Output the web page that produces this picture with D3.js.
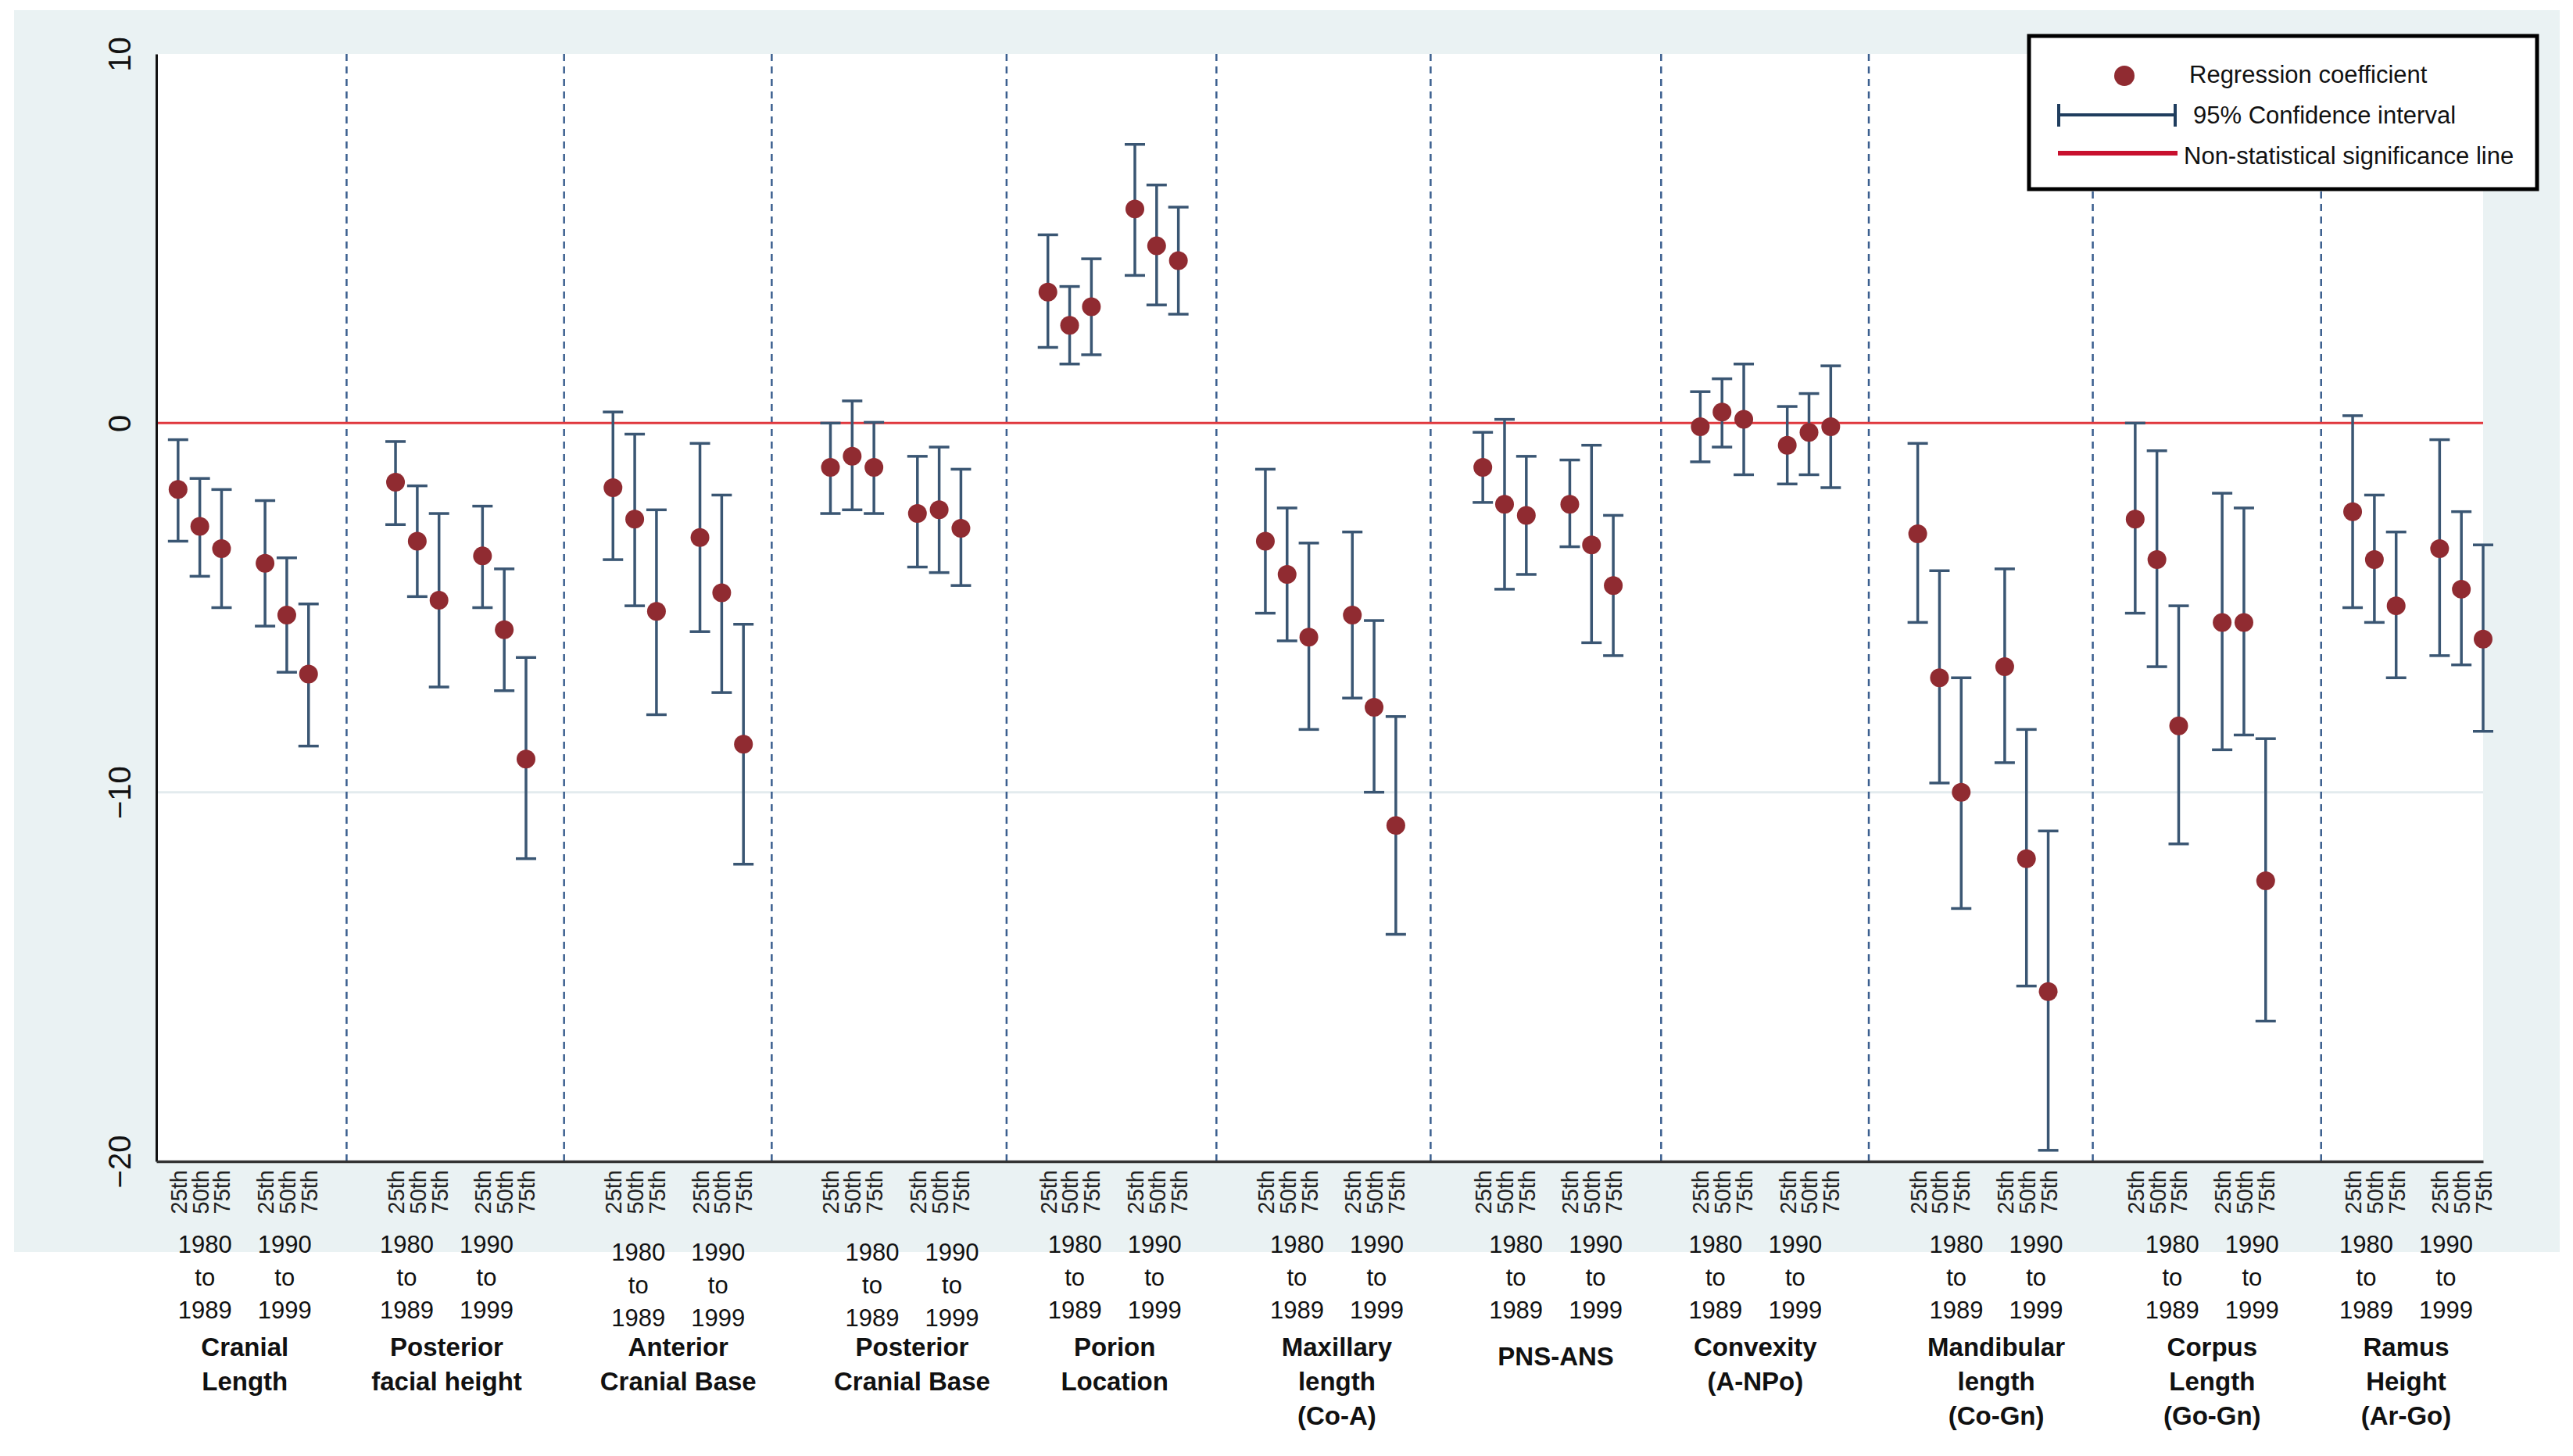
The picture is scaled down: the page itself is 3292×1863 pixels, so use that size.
<!DOCTYPE html>
<html lang="en">
<head>
    <meta charset="UTF-8">
    <title>Regression coefficients by percentile and decade</title>
    <style>
        body { margin: 0; background: #fff; }
        svg { display: block; }
        .yaxis text { font-family: "Liberation Sans", Arial, sans-serif; font-size: 40px; fill: #111; }
        .xaxis text { font-family: "Liberation Sans", Arial, sans-serif; font-size: 29px; fill: #222; }
        .period { font-family: "Liberation Sans", Arial, sans-serif; font-size: 31px; fill: #111; }
        .category { font-family: "Liberation Sans", Arial, sans-serif; font-size: 33px; font-weight: bold; fill: #111; }
        .legend text { font-family: "Liberation Sans", Arial, sans-serif; font-size: 31px; fill: #111; }
    </style>
    <script src="https://d3js.org/d3.v7.min.js"></script>
</head>
<body>
    <script>
        // measures, one per panel
        const categories = [
            ["Cranial", "Length"],
            ["Posterior", "facial height"],
            ["Anterior", "Cranial Base"],
            ["Posterior", "Cranial Base"],
            ["Porion", "Location"],
            ["Maxillary", "length", "(Co-A)"],
            ["PNS-ANS"],
            ["Convexity", "(A-NPo)"],
            ["Mandibular", "length", "(Co-Gn)"],
            ["Corpus", "Length", "(Go-Gn)"],
            ["Ramus", "Height", "(Ar-Go)"]
        ];
        const percentiles = ["25th", "50th", "75th"];
        const periods = [["1980", "to", "1989"], ["1990", "to", "1999"]];

        // per measure: 25th/50th/75th for 1980-89, then 25th/50th/75th for 1990-99
        const coef = [
            [-1.8, -2.8, -3.4, -3.8, -5.2, -6.8],
            [-1.6, -3.2, -4.8, -3.6, -5.6, -9.1],
            [-1.75, -2.6, -5.1, -3.1, -4.6, -8.7],
            [-1.2, -0.9, -1.2, -2.45, -2.35, -2.85],
            [3.55, 2.65, 3.15, 5.8, 4.8, 4.4],
            [-3.2, -4.1, -5.8, -5.2, -7.7, -10.9],
            [-1.2, -2.2, -2.5, -2.2, -3.3, -4.4],
            [-0.1, 0.3, 0.1, -0.6, -0.25, -0.1],
            [-3.0, -6.9, -10.0, -6.6, -11.8, -15.4],
            [-2.6, -3.7, -8.2, -5.4, -5.4, -12.4],
            [-2.4, -3.7, -4.95, -3.4, -4.5, -5.85]
        ];
        const ciLow = [
            [-3.2, -4.15, -5.0, -5.5, -6.75, -8.75],
            [-2.75, -4.7, -7.15, -5.0, -7.25, -11.8],
            [-3.7, -4.95, -7.9, -5.65, -7.3, -11.95],
            [-2.45, -2.35, -2.45, -3.9, -4.05, -4.4],
            [2.05, 1.6, 1.85, 4.0, 3.2, 2.95],
            [-5.15, -5.9, -8.3, -7.45, -10.0, -13.85],
            [-2.15, -4.5, -4.1, -3.35, -5.95, -6.3],
            [-1.05, -0.65, -1.4, -1.65, -1.4, -1.75],
            [-5.4, -9.75, -13.15, -9.2, -15.25, -19.7],
            [-5.15, -6.6, -11.4, -8.85, -8.45, -16.2],
            [-5.0, -5.4, -6.9, -6.3, -6.55, -8.35]
        ];
        const ciHigh = [
            [-0.45, -1.5, -1.8, -2.1, -3.65, -4.9],
            [-0.5, -1.7, -2.45, -2.25, -3.95, -6.35],
            [0.3, -0.3, -2.35, -0.55, -1.95, -5.45],
            [0, 0.6, 0.02, -0.9, -0.65, -1.25],
            [5.1, 3.7, 4.45, 7.55, 6.45, 5.85],
            [-1.25, -2.3, -3.25, -2.95, -5.35, -7.95],
            [-0.25, 0.1, -0.9, -1.0, -0.6, -2.5],
            [0.85, 1.2, 1.6, 0.45, 0.8, 1.55],
            [-0.55, -4.0, -6.9, -3.95, -8.3, -11.05],
            [0, -0.75, -4.95, -1.9, -2.3, -8.55],
            [0.2, -1.95, -2.95, -0.45, -2.4, -3.3]
        ];

        const yTicks = [10, 0, -10, -20];
        const dividers = [8.75, 18.75, 28.3, 39.1, 48.75, 58.6, 69.2, 78.75, 89.05, 99.55];
        const legendLabels = ["Regression coefficient", "95% Confidence interval", "Non-statistical significance line"];

        // hand placement of the text under each panel (px)
        const labelShift = [2, -18, 0, 21, 2, 8, 10, -13, 17, 15, -15];
        const yearDrop = [0, 0, 10, 10, 0, 0, 0, 0, 0, 0, 0];

        class CoefPlot {
            constructor(svg) {
                this.svg = svg;
                this.plot = { left: 200, right: 3177, top: 69, bottom: 1486 };
                this.x = d3.scaleLinear().domain([0, 107]).range([this.plot.left, this.plot.right]);
                this.y = d3.scaleLinear().domain([-20, 10]).range([this.plot.bottom, this.plot.top]);

                this.points = [];
                categories.forEach((c, g) => {
                    coef[g].forEach((v, i) => {
                        const p = Math.floor(i / 3), k = i % 3;
                        this.points.push({ pos: g * 10 + 1 + p * 4 + k, coef: v, lo: ciLow[g][i], hi: ciHigh[g][i] });
                    });
                });
            }

            init() {
                this.drawBackground();
                this.drawGuides();
                this.drawIntervals();
                this.drawAxes();
                this.drawLabels();
                this.drawLegend();
            }

            drawBackground() {
                this.svg.append("rect")
                    .attr("x", 18).attr("y", 13).attr("width", 3257).attr("height", 1589)
                    .attr("fill", "#eaf2f3");
                this.svg.append("rect")
                    .attr("x", this.plot.left).attr("y", this.plot.top)
                    .attr("width", this.plot.right - this.plot.left)
                    .attr("height", this.plot.bottom - this.plot.top)
                    .attr("fill", "#fff");
            }

            drawGuides() {
                const g = this.svg.append("g");
                g.selectAll("line.grid").data([-10]).enter().append("line")
                    .attr("class", "grid")
                    .attr("x1", this.plot.left).attr("x2", this.plot.right)
                    .attr("y1", d => this.y(d)).attr("y2", d => this.y(d))
                    .attr("stroke", "#e3ebee").attr("stroke-width", 3);

                g.selectAll("line.divider").data(dividers).enter().append("line")
                    .attr("class", "divider")
                    .attr("x1", d => this.x(d)).attr("x2", d => this.x(d))
                    .attr("y1", this.plot.top).attr("y2", this.plot.bottom)
                    .attr("stroke", "#3b5f8f").attr("stroke-width", 2.5)
                    .attr("stroke-dasharray", "9,7");

                g.append("line")
                    .attr("x1", this.plot.left).attr("x2", this.plot.right)
                    .attr("y1", this.y(0)).attr("y2", this.y(0))
                    .attr("stroke", "#e0383e").attr("stroke-width", 3);
            }

            drawIntervals() {
                const cap = 13;
                const bars = this.svg.append("g").selectAll("g")
                    .data(this.points).enter().append("g")
                    .attr("stroke", "#3a5673").attr("stroke-width", 3.5);

                bars.append("line")
                    .attr("x1", d => this.x(d.pos)).attr("x2", d => this.x(d.pos))
                    .attr("y1", d => this.y(d.lo)).attr("y2", d => this.y(d.hi));
                bars.append("line")
                    .attr("x1", d => this.x(d.pos) - cap).attr("x2", d => this.x(d.pos) + cap)
                    .attr("y1", d => this.y(d.lo)).attr("y2", d => this.y(d.lo));
                bars.append("line")
                    .attr("x1", d => this.x(d.pos) - cap).attr("x2", d => this.x(d.pos) + cap)
                    .attr("y1", d => this.y(d.hi)).attr("y2", d => this.y(d.hi));

                this.svg.append("g").selectAll("circle")
                    .data(this.points).enter().append("circle")
                    .attr("cx", d => this.x(d.pos))
                    .attr("cy", d => this.y(d.coef))
                    .attr("r", 12)
                    .attr("fill", "#902b31");
            }

            drawAxes() {
                const yAxis = this.svg.append("g").attr("class", "yaxis")
                    .attr("transform", `translate(${this.plot.left},0)`)
                    .call(d3.axisLeft(this.y).tickValues(yTicks).tickSize(0).tickSizeOuter(0));
                yAxis.select(".domain").attr("stroke", "#111").attr("stroke-width", 3);
                yAxis.selectAll("text")
                    .attr("x", null).attr("dy", null)
                    .attr("text-anchor", "middle")
                    .attr("dominant-baseline", "central")
                    .attr("transform", "translate(-47,0) rotate(-90)");

                const xAxis = this.svg.append("g").attr("class", "xaxis")
                    .attr("transform", `translate(0,${this.plot.bottom})`)
                    .call(d3.axisBottom(this.x)
                        .tickValues(this.points.map(d => d.pos))
                        .tickFormat((d, i) => percentiles[i % 3])
                        .tickSize(0).tickSizeOuter(0));
                xAxis.select(".domain").attr("stroke", "#333").attr("stroke-width", 3.5);
                xAxis.selectAll("text")
                    .attr("y", null).attr("dy", "0.36em")
                    .attr("text-anchor", "end")
                    .attr("transform", "translate(0,11) rotate(-90)");
            }

            drawLabels() {
                const rowY = [1592, 1634, 1676];
                categories.forEach((lines, g) => {
                    const cx = this.x(g * 10 + 4) + labelShift[g];
                    periods.forEach((rows, p) => {
                        this.svg.append("g").selectAll("text")
                            .data(rows).enter().append("text")
                            .attr("class", "period")
                            .attr("x", cx + (p === 0 ? -51 : 51))
                            .attr("y", (d, j) => rowY[j] + yearDrop[g])
                            .attr("text-anchor", "middle")
                            .attr("dominant-baseline", "central")
                            .text(d => d);
                    });
                    const top = lines.length === 1 ? 1735 : 1723;
                    this.svg.append("g").selectAll("text")
                        .data(lines).enter().append("text")
                        .attr("class", "category")
                        .attr("x", cx)
                        .attr("y", (d, j) => top + j * 44)
                        .attr("text-anchor", "middle")
                        .attr("dominant-baseline", "central")
                        .text(d => d);
                });
            }

            drawLegend() {
                const lg = this.svg.append("g").attr("class", "legend");
                lg.append("rect")
                    .attr("x", 2596).attr("y", 46).attr("width", 650).attr("height", 196)
                    .attr("fill", "#fff").attr("stroke", "#000").attr("stroke-width", 5);

                lg.append("circle").attr("cx", 2718).attr("cy", 97).attr("r", 13).attr("fill", "#902b31");

                const ci = lg.append("g").attr("stroke", "#1f3d5e").attr("stroke-width", 4);
                ci.append("line").attr("x1", 2634).attr("x2", 2783).attr("y1", 147).attr("y2", 147);
                ci.append("line").attr("x1", 2634).attr("x2", 2634).attr("y1", 133).attr("y2", 162);
                ci.append("line").attr("x1", 2783).attr("x2", 2783).attr("y1", 133).attr("y2", 162);

                lg.append("line").attr("x1", 2633).attr("x2", 2786).attr("y1", 196).attr("y2", 196)
                    .attr("stroke", "#c8102e").attr("stroke-width", 6);

                lg.selectAll("text").data(legendLabels).enter().append("text")
                    .attr("x", (d, i) => [2801, 2806, 2794][i])
                    .attr("y", (d, i) => [95, 147, 199][i])
                    .attr("font-size", (d, i) => i === 2 ? 32 : 31.5)
                    .attr("dominant-baseline", "central")
                    .text(d => d);
            }
        }

        const svg = d3.select("body").append("svg")
            .attr("width", 3292).attr("height", 1863)
            .attr("viewBox", "0 0 3292 1863");
        const chart = new CoefPlot(svg);
        chart.init();
    </script>
</body>
</html>
